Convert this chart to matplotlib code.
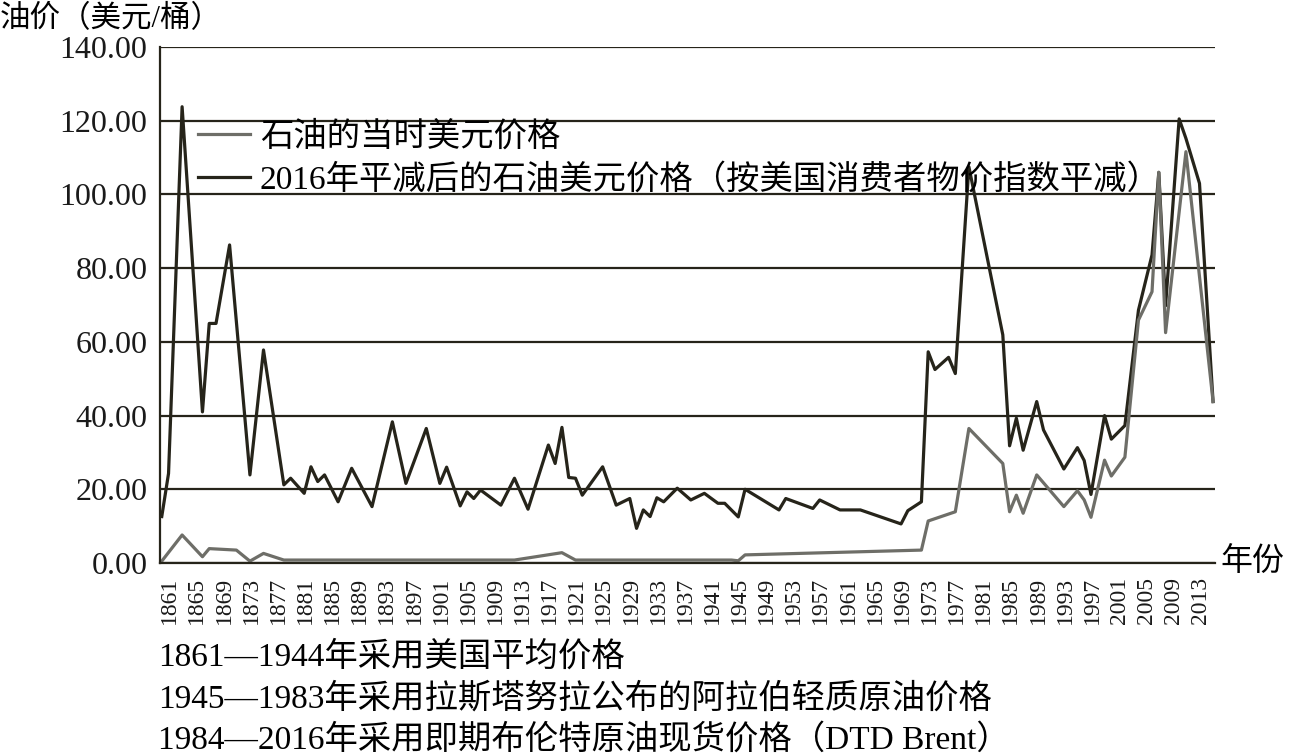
import matplotlib
matplotlib.use("Agg")
import matplotlib.pyplot as plt
from matplotlib.transforms import ScaledTranslation

plt.rcParams["font.family"] = ["Liberation Serif", "Noto Sans CJK SC"]

# 2016年平减后的石油美元价格 (real, 2016 dollars)
real_years = [1861, 1862, 1864, 1867, 1868, 1869, 1871, 1874, 1876, 1879,
              1880, 1882, 1883, 1884, 1885, 1887, 1889, 1892, 1895, 1897,
              1900, 1902, 1903, 1905, 1906, 1907, 1908, 1911, 1913, 1915,
              1918, 1919, 1920, 1921, 1922, 1923, 1926, 1928, 1930, 1931,
              1932, 1933, 1934, 1935, 1937, 1939, 1941, 1943, 1944, 1946,
              1947, 1952, 1953, 1957, 1958, 1961, 1964, 1970, 1971, 1973,
              1974, 1975, 1977, 1978, 1980, 1985, 1986, 1987, 1988, 1990,
              1991, 1994, 1996, 1997, 1998, 2000, 2001, 2003, 2005, 2007,
              2008, 2009, 2011, 2012, 2014, 2016]
real_price = [12.6, 24.3, 123.8, 41.0, 65.0, 65.0, 86.3, 23.9, 57.8, 21.2,
              23.0, 18.9, 26.1, 22.1, 23.9, 16.6, 25.7, 15.3, 38.3, 21.6,
              36.5, 21.6, 26.0, 15.5, 19.3, 17.5, 19.8, 15.7, 23.0, 14.6,
              32.0, 27.0, 36.8, 23.2, 23.0, 18.4, 26.1, 15.7, 17.5, 9.4,
              14.4, 12.6, 17.7, 16.6, 20.3, 17.1, 18.9, 16.2, 16.2, 12.5,
              20.0, 14.4, 17.5, 14.8, 17.1, 14.4, 14.4, 10.6, 14.2, 16.6,
              57.3, 52.5, 55.8, 51.4, 107.5, 61.9, 31.8, 39.3, 30.6, 43.8,
              36.1, 25.5, 31.3, 27.8, 18.6, 40.0, 33.6, 37.3, 68.6, 83.6,
              106.0, 69.8, 120.5, 115.2, 103.0, 43.8]

# 石油的当时美元价格 (nominal)
nominal_years = [1861, 1864, 1867, 1868, 1872, 1874, 1876, 1879, 1913, 1920,
                 1922, 1945, 1946, 1947, 1973, 1974, 1978, 1980, 1985, 1986,
                 1987, 1988, 1990, 1994, 1996, 1997, 1998, 2000, 2001, 2003,
                 2005, 2007, 2008, 2009, 2012, 2016]
nominal_price = [0.5, 7.6, 1.7, 3.9, 3.5, 0.5, 2.6, 0.8, 0.8, 2.8,
                 0.8, 0.8, 0.6, 2.2, 3.5, 11.4, 13.9, 36.5, 27.0, 13.9,
                 18.4, 13.5, 23.9, 15.3, 19.6, 17.1, 12.4, 27.9, 23.6, 28.7,
                 65.9, 73.6, 106.0, 62.5, 111.6, 43.8]

tick_years = list(range(1861, 2014, 4))
y_ticks = [0, 20, 40, 60, 80, 100, 120, 140]

notes = [
    "1861—1944年采用美国平均价格",
    "1945—1983年采用拉斯塔努拉公布的阿拉伯轻质原油价格",
    "1984—2016年采用即期布伦特原油现货价格（DTD Brent）",
]

dark = "#26241a"
gray = "#6e6e68"

fig = plt.figure(figsize=(12.95, 7.56), dpi=100)
ax = fig.add_axes([0.1236, 0.2553, 0.8147, 0.6825])

line_real, = ax.plot(real_years, real_price, color=dark, lw=2.3,
                     label="2016年平减后的石油美元价格（按美国消费者物价指数平减）")
line_nom, = ax.plot(nominal_years, nominal_price, color=gray, lw=2.3,
                    label="石油的当时美元价格")

ax.set_xlim(1860.75, 2016.3)
ax.set_ylim(0, 140)
ax.set_yticks(y_ticks)
ax.set_yticklabels([f"{v:.2f}" for v in y_ticks], fontsize=23)
ax.set_xticks(tick_years)
ax.set_xticklabels([str(y) for y in tick_years], rotation=90, fontsize=17)
ax.tick_params(axis="both", length=0, colors="#1a1a1a")
ax.tick_params(axis="x", pad=10)
ax.tick_params(axis="y", pad=9)
for lab in ax.get_xticklabels():
    lab.set_transform(lab.get_transform() + ScaledTranslation(0.08, 0, fig.dpi_scale_trans))

ax.grid(axis="y", color=dark, lw=1.6)
ax.set_axisbelow(True)
for side in ["top", "right"]:
    ax.spines[side].set_visible(False)
for side in ["left", "bottom"]:
    ax.spines[side].set_color(dark)
    ax.spines[side].set_linewidth(1.6)

ax.legend(handles=[line_nom, line_real], loc="upper left",
          bbox_to_anchor=(198 / 1295, 1 - 121 / 756),
          bbox_transform=fig.transFigure, frameon=False, fontsize=24,
          handlelength=1.55, handletextpad=0.3, labelspacing=0.35,
          borderpad=0, borderaxespad=0)

fig.text(0, 1 - 20 / 756, "油价（美元/桶）", fontsize=22, va="center", ha="left")
fig.text(1220 / 1295, 1 - 563 / 756, "年份", fontsize=23, va="center", ha="left")
for i, t in enumerate(notes):
    fig.text(158 / 1295, 1 - (657 + 41.5 * i) / 756, t, fontsize=24,
             va="center", ha="left")

fig.savefig("out.png", dpi=100)
